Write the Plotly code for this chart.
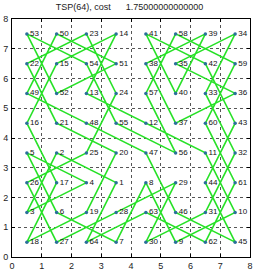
import plotly.graph_objects as go

# City labels on an 8x8 grid, rows from top (y=7.5) to bottom (y=0.5)
labels_grid = [
    [53, 50, 23, 14, 41, 58, 39, 34],
    [22, 15, 54, 51, 38, 35, 42, 59],
    [49, 52, 13, 24, 57, 40, 33, 36],
    [16, 21, 48, 55, 12, 37, 60, 43],
    [5, 2, 25, 20, 47, 56, 11, 32],
    [26, 17, 4, 1, 8, 29, 44, 61],
    [3, 6, 19, 28, 63, 46, 31, 10],
    [18, 27, 64, 7, 30, 9, 62, 45],
]
x_centers = [0.5, 1.5, 2.5, 3.5, 4.5, 5.5, 6.5, 7.5]
y_centers = [7.5, 6.5, 5.5, 4.5, 3.5, 2.5, 1.5, 0.5]
tick_vals = [0, 1, 2, 3, 4, 5, 6, 7, 8]
title_text = "TSP(64), cost\u00a0\u00a0\u00a0\u00a0\u00a0\u00a01.75000000000000"

# cities
city_x, city_y, city_lab = [], [], []
for r, row in enumerate(labels_grid):
    for c, lab in enumerate(row):
        city_x.append(x_centers[c])
        city_y.append(y_centers[r])
        city_lab.append(lab)

# tour visits cities in label order, closed
order = sorted(range(len(city_lab)), key=lambda i: city_lab[i])
tour_x = [city_x[i] for i in order] + [city_x[order[0]]]
tour_y = [city_y[i] for i in order] + [city_y[order[0]]]

fig = go.Figure()
fig.add_trace(go.Scatter(x=tour_x, y=tour_y, mode="lines",
                         line=dict(color="rgb(40,225,40)", width=1.6),
                         hoverinfo="skip"))
fig.add_trace(go.Scatter(x=city_x, y=city_y, mode="markers+text",
                         marker=dict(color="#2a6f9a", size=3.5),
                         text=[str(v) for v in city_lab],
                         textposition="middle right",
                         cliponaxis=False,
                         textfont=dict(family="Liberation Sans, Arial", size=8, color="#111")))

axis_common = dict(range=[0, 8], tickvals=tick_vals, showgrid=True,
                   gridcolor="#555", griddash="dot", gridwidth=0.7,
                   showline=True, linecolor="black", linewidth=1, mirror="allticks",
                   ticks="inside", ticklen=3, tickcolor="black",
                   tickfont=dict(family="Liberation Sans, Arial", size=9, color="#222"),
                   zeroline=False, fixedrange=True, automargin=False)

fig.update_layout(
    width=259, height=273,
    margin=dict(l=12, r=9, t=19, b=16, autoexpand=False),
    paper_bgcolor="white", plot_bgcolor="white",
    showlegend=False,
    title=dict(text=title_text, x=0.5, xanchor="center", y=0.985, yanchor="top",
               font=dict(family="Liberation Sans, Arial", size=9, color="#222"),
               automargin=False),
    xaxis=dict(**axis_common, ticklabelstandoff=0),
    yaxis=dict(**axis_common, ticklabelstandoff=1),
)
fig.write_html("out.html", config={"displayModeBar": False},
               post_script="document.body.style.margin='0';document.body.style.overflow='hidden';")
